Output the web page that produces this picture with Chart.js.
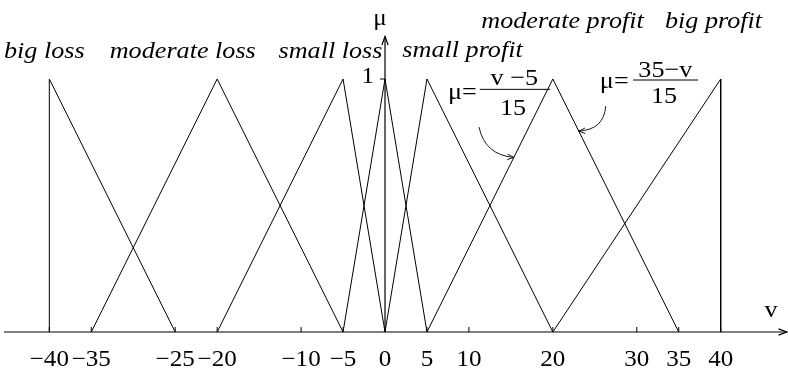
<!DOCTYPE html>
<html>
<head>
<meta charset="utf-8">
<script src="https://cdn.jsdelivr.net/npm/chart.js@4.4.1/dist/chart.umd.min.js"></script>
<style>
    html, body { margin: 0; padding: 0; background: #ffffff; }
    #wrap { width: 788px; height: 370px; }
</style>
</head>
<body>
<div id="wrap"><canvas id="myChart" width="788" height="370"></canvas></div>
<script>

// tick labels on the v axis
const tickValues = [-40, -35, -25, -20, -10, -5, 0, 5, 10, 20, 30, 35, 40]

// membership functions, [v, mu] corners of each triangle
const bigLoss        = [[-40, 0], [-40, 1], [-25, 0]]
const moderateLoss   = [[-35, 0], [-20, 1], [-5, 0]]
const smallLoss      = [[-20, 0], [-5, 1], [0, 0]]
const zeroSet        = [[-5, 0], [0, 1], [5, 0]]
const smallProfit    = [[0, 0], [5, 1], [20, 0]]
const moderateProfit = [[5, 0], [20, 1], [35, 0]]
const bigProfit      = [[20, 0], [40, 1], [40, 0]]

const setNames = ['big loss', 'moderate loss', 'small loss', 'small profit', 'moderate profit', 'big profit']

const allSets = [bigLoss, moderateLoss, smallLoss, zeroSet, smallProfit, moderateProfit, bigProfit]

const serif = '"Liberation Serif", "Times New Roman", Times, serif'
const stretch = 1.09   // the labels are set a bit wide

function wideText(ctx, str, x, y, size, italic, align) {
    ctx.save()
    ctx.font = (italic ? 'italic ' : '') + size + 'px ' + serif
    ctx.textAlign = align || 'center'
    ctx.textBaseline = 'alphabetic'
    ctx.fillStyle = '#000'
    ctx.translate(x, y)
    ctx.scale(stretch, 1)
    ctx.fillText(str, 0, 0)
    ctx.restore()
}

function openHead(ctx, tipX, tipY, fromX, fromY, len, spread) {
    const a = Math.atan2(tipY - fromY, tipX - fromX)
    ctx.beginPath()
    ctx.moveTo(tipX - len * Math.cos(a - spread), tipY - len * Math.sin(a - spread))
    ctx.lineTo(tipX, tipY)
    ctx.lineTo(tipX - len * Math.cos(a + spread), tipY - len * Math.sin(a + spread))
    ctx.stroke()
}

const fuzzyAxes = {
    id: 'fuzzyAxes',
    afterDatasetsDraw(chart) {
        const ctx = chart.ctx
        const xs = chart.scales.x
        const ys = chart.scales.y
        const px = v => xs.getPixelForValue(v)
        const py = m => ys.getPixelForValue(m)
        const area = chart.chartArea

        ctx.save()
        ctx.strokeStyle = '#000'
        ctx.lineWidth = 1.2

        // v axis
        const y0 = py(0)
        ctx.beginPath()
        ctx.moveTo(area.left, y0)
        ctx.lineTo(area.right, y0)
        ctx.stroke()
        openHead(ctx, area.right, y0, area.left, y0, 9, 0.35)

        // mu axis
        const x0 = px(0)
        const yTop = py(1.168)
        ctx.beginPath()
        ctx.moveTo(x0, y0)
        ctx.lineTo(x0, yTop)
        ctx.stroke()
        openHead(ctx, x0, yTop, x0, y0, 9, 0.35)

        // small ticks and their numbers
        ctx.lineWidth = 1
        tickValues.forEach(v => {
            ctx.beginPath()
            ctx.moveTo(px(v), y0)
            ctx.lineTo(px(v), y0 - 5)
            ctx.stroke()
            const txt = v < 0 ? '\u2212' + Math.abs(v) : String(v)
            wideText(ctx, txt, px(v), y0 + 34, 23, false)
        })
        ctx.beginPath()
        ctx.moveTo(x0, py(1))
        ctx.lineTo(x0 - 5, py(1))
        ctx.stroke()
        wideText(ctx, '1', x0 - 11, py(1) + 4, 23, false, 'right')

        // axis names
        wideText(ctx, '\u03bc', x0 - 5, py(1.215), 23, false)
        wideText(ctx, 'v', area.right - 16, py(0.06), 24, false)

        // set names
        const namePos = [[-40.6, 1.083], [-24.1, 1.083], [-6.5, 1.083], [9.24, 1.087], [21.15, 1.2], [39.15, 1.2]]
        setNames.forEach((n, i) => {
            wideText(ctx, n, px(namePos[i][0]), py(namePos[i][1]), 24, true)
        })

        // mu = (v - 5) / 15
        wideText(ctx, '\u03bc=', px(7.5), py(0.921), 24, false, 'left')
        ctx.beginPath()
        ctx.moveTo(px(11.3), py(0.959))
        ctx.lineTo(px(19.65), py(0.959))
        ctx.stroke()
        wideText(ctx, 'v \u22125', px(15.4), py(0.976), 24, false)
        wideText(ctx, '15', px(15.25), py(0.858), 24, false)

        // mu = (35 - v) / 15
        wideText(ctx, '\u03bc=', px(25.6), py(0.964), 24, false, 'left')
        ctx.beginPath()
        ctx.moveTo(px(29.56), py(0.996))
        ctx.lineTo(px(37.3), py(0.996))
        ctx.stroke()
        wideText(ctx, '35\u2212v', px(33.4), py(1.008), 24, false)
        wideText(ctx, '15', px(33.25), py(0.905), 24, false)

        // curved pointers to the two sides of moderate profit
        const pointers = [
            [[11.2, 0.81], [11.9, 0.70], [5 + 15 * 0.69, 0.69]],
            [[26.3, 0.893], [26.1, 0.80], [35 - 15 * 0.794, 0.794]]
        ]
        ctx.lineWidth = 0.9
        pointers.forEach(p => {
            const [s, c, e] = p
            ctx.beginPath()
            ctx.moveTo(px(s[0]), py(s[1]))
            ctx.quadraticCurveTo(px(c[0]), py(c[1]), px(e[0]), py(e[1]))
            ctx.stroke()
            openHead(ctx, px(e[0]), py(e[1]), px(c[0]), py(c[1]), 7, 0.4)
        })

        ctx.restore()
    }
}

function generateChart() {
    const ctx = myChart.getContext('2d')
    return new Chart(ctx, {
        type: 'scatter',
        data: {
            datasets: allSets.map(set => ({
                data: set.map(p => ({ x: p[0], y: p[1] })),
                showLine: true,
                borderColor: '#000000',
                borderWidth: 1,
                pointRadius: 0,
                tension: 0,
                clip: false
            }))
        },
        options: {
            responsive: false,
            animation: false,
            devicePixelRatio: 1,
            layout: {
                padding: { left: 4, right: 1, top: 79, bottom: 38 }
            },
            scales: {
                x: { type: 'linear', min: -45.4, max: 47.9, display: false },
                y: { type: 'linear', min: 0, max: 1, display: false }
            },
            plugins: {
                legend: { display: false },
                tooltip: { enabled: false }
            }
        },
        plugins: [fuzzyAxes]
    })
}

// make sure the serif faces are ready before the canvas uses them
Promise.all([
    document.fonts.load('23px "Liberation Serif"'),
    document.fonts.load('italic 24px "Liberation Serif"')
]).catch(() => {}).then(() => { generateChart() })
</script>
</body>
</html>
